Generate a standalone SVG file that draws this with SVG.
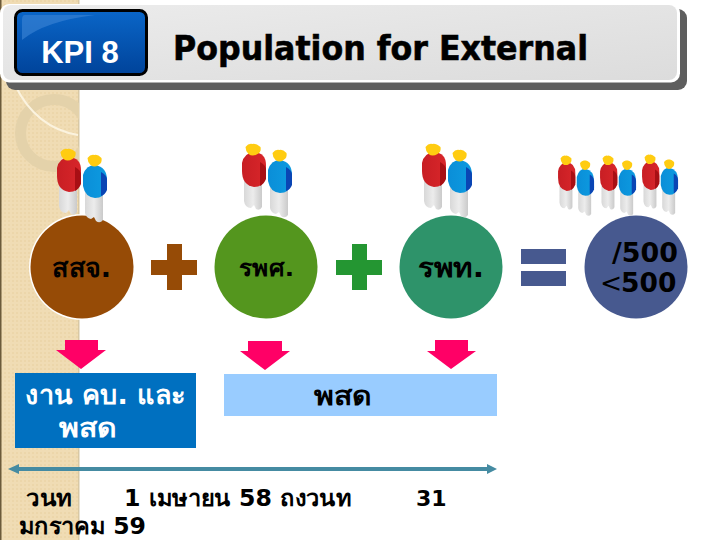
<svg xmlns="http://www.w3.org/2000/svg" width="720" height="540" viewBox="0 0 720 540">
<style>
text{font-family:"DejaVu Sans","Noto Sans","Liberation Sans",sans-serif;font-weight:700;fill:#000}
.th{font-size:26px}
.wh{fill:#fff}
.pink{fill:#ff0066}
</style>
<defs>
<linearGradient id="hdr" x1="0" y1="0" x2="1" y2="1"><stop offset="0" stop-color="#ececec"/><stop offset="1" stop-color="#dcdcdc"/></linearGradient>
<linearGradient id="kpi" x1="0" y1="0" x2="0" y2="1"><stop offset="0" stop-color="#0a66c8"/><stop offset="1" stop-color="#00439a"/></linearGradient>
<linearGradient id="leg" x1="0" y1="0" x2="1" y2="0"><stop offset="0" stop-color="#d8d8d8"/><stop offset=".5" stop-color="#ececec"/><stop offset="1" stop-color="#cacaca"/></linearGradient>
<linearGradient id="red" x1="0" y1="0" x2="1" y2="0"><stop offset="0" stop-color="#c81e24"/><stop offset="1" stop-color="#d8262a"/></linearGradient>
<linearGradient id="blu" x1="0" y1="0" x2="1" y2="0"><stop offset="0" stop-color="#0a8ed8"/><stop offset="1" stop-color="#0d9be0"/></linearGradient>
<pattern id="dots" width="4" height="4" patternUnits="userSpaceOnUse"><rect width="4" height="4" fill="#f0dcb4"/><rect width="2" height="2" fill="#ecd6aa"/></pattern>
<clipPath id="stripe"><rect width="79" height="540"/></clipPath>
<g id="pair">
<path d="M59 186h18v26q-2 4-6 2l-2-4-3 3q-6 0-7-7z" fill="url(#leg)"/>
<path d="M85 192h18v28q-3 4-7 1l-2-4-3 2q-5-1-6-6z" fill="url(#leg)"/>
<path d="M57 168q2-10 12-11q12 1 12 13v12q-3 10-12 10q-12-2-12-16z" fill="url(#red)"/>
<path d="M75 167q6 3 6 8v9q-2 5-6 7z" fill="#a80f14"/>
<path d="M83 175q3-10 12-10q12 2 12 15v8q-3 10-12 10q-10-1-12-12z" fill="url(#blu)"/>
<path d="M101 172q6 3 6 8v10q-2 5-6 6z" fill="#0a45b4"/>
<path d="M60.500 152q3-4 7-3q3-1 8 3q1 5-3 7q-5 3-9 0q-3-3-3-7z" fill="#ffcc11"/>
<path d="M87.500 158q3-4 7-3q3-1 7 3q1 5-3 7q-4 3-8 0q-3-3-3-7z" fill="#ffcc11"/>
</g>
</defs>
<rect width="720" height="540" fill="#fff"/>
<g id="background">
<rect x="0" y="0" width="79" height="540" fill="url(#dots)"/>
<rect x="0" y="0" width="1.500" height="540" fill="#6b5a3a"/>
<rect x="78" y="0" width="1.500" height="540" fill="#d8c8a4"/>
<g clip-path="url(#stripe)">
<circle cx="54" cy="133" r="33.500" fill="none" stroke="#e4d2aa" stroke-width="11"/>
<path d="M15 85Q36 128 78 135" fill="none" stroke="#fbf3df" stroke-width="2"/>
</g>
</g>
<g id="header">
<rect x="6" y="9" width="681" height="81" rx="9" fill="#5e5e5e"/>
<rect x="0" y="4" width="680" height="78.500" rx="9" fill="#fff"/>
<rect x="3" y="5" width="674" height="75" rx="8" fill="url(#hdr)"/>
</g>
<g id="kpi-badge">
<rect x="15.500" y="10.500" width="131" height="64" rx="7" fill="url(#kpi)" stroke="#000" stroke-width="3"/>
<path d="M25 15h70q-50 6-73 25v-20q0-5 3-5z" fill="#3d86d6" opacity=".6"/>
<text x="80" y="63" text-anchor="middle" class="wh" font-size="31" style="font-family:'Liberation Sans',sans-serif">KPI 8</text>
</g>
<text id="title" x="173" y="60" font-size="34" textLength="415" lengthAdjust="spacingAndGlyphs" stroke="#000" stroke-width=".6">Population for External</text>
<g id="node-1"><circle cx="82" cy="267" r="53" fill="#fff"/><circle cx="82" cy="267" r="51.500" fill="#964b06"/><text x="52" y="277" class="th" textLength="59" lengthAdjust="spacingAndGlyphs">สสจ.</text></g>
<g id="node-2"><circle cx="266" cy="267" r="51.500" fill="#54961e"/><text x="239" y="276" font-size="22" textLength="55" lengthAdjust="spacingAndGlyphs">รพศ.</text></g>
<g id="node-3"><circle cx="451" cy="267" r="51.500" fill="#2e936a"/><text x="418" y="277" class="th" textLength="66" lengthAdjust="spacingAndGlyphs">รพท.</text></g>
<g id="node-4"><circle cx="636" cy="267" r="51.500" fill="#47598f"/><text x="612" y="262" font-size="26.500" textLength="66" lengthAdjust="spacingAndGlyphs">/500</text><text x="600" y="292" font-size="26.500"><tspan style="font-weight:400">&lt;</tspan><tspan x="621">500</tspan></text></g>
<g id="people">
<use href="#pair"/>
<use href="#pair" x="185" y="-5"/>
<use href="#pair" x="365" y="-5"/>
<use href="#pair" transform="translate(517 33.500) scale(.72 .82)"/>
<use href="#pair" transform="translate(559 33.500) scale(.72 .82)"/>
<use href="#pair" transform="translate(601 32.500) scale(.72 .82)"/>
</g>
<g id="operators">
<path d="M151 260h16v-16h15v16h15v15h-15v15h-15v-15h-16z" fill="#964b06"/>
<path d="M336 260h16v-16h15v16h15v15h-15v15h-15v-15h-16z" fill="#249632"/>
<rect x="521" y="249" width="45" height="15" fill="#47598f"/><rect x="521" y="271" width="45" height="15" fill="#47598f"/>
</g>
<g id="connectors">
<path class="pink" d="M65 340h33v10h8l-25 19-25-19h9z"/>
<path class="pink" d="M248 341h34v10h8l-25 19-25-19h8z"/>
<path class="pink" d="M435 340h33v11h8l-25 18-24-18h8z"/>
<g fill="#458ba2"><rect x="17" y="467" width="470" height="4"/><path d="M8 469l11-5v10z"/><path d="M497 469l-10-5v10z"/></g>
</g>
<g id="box-1"><rect x="15" y="373" width="181" height="75" fill="#0070c0"/><text x="25" y="404" class="th wh" textLength="161" lengthAdjust="spacingAndGlyphs">งาน คบ. และ</text><text x="59" y="437" class="th wh" textLength="58" lengthAdjust="spacingAndGlyphs">พสด</text></g>
<g id="box-2"><rect x="224" y="374" width="273" height="42" fill="#99ccff"/><text x="314" y="405" class="th" textLength="58" lengthAdjust="spacingAndGlyphs">พสด</text></g>
<g id="dates">
<text x="26" y="506" font-size="23" textLength="46" lengthAdjust="spacingAndGlyphs">วนท</text>
<text x="124" y="506" font-size="23" textLength="227" lengthAdjust="spacingAndGlyphs">1 เมษายน 58 ถงวนท</text>
<text x="416" y="506" font-size="22">31</text>
<text x="19" y="534" font-size="23" textLength="127" lengthAdjust="spacingAndGlyphs">มกราคม 59</text>
</g>
</svg>
